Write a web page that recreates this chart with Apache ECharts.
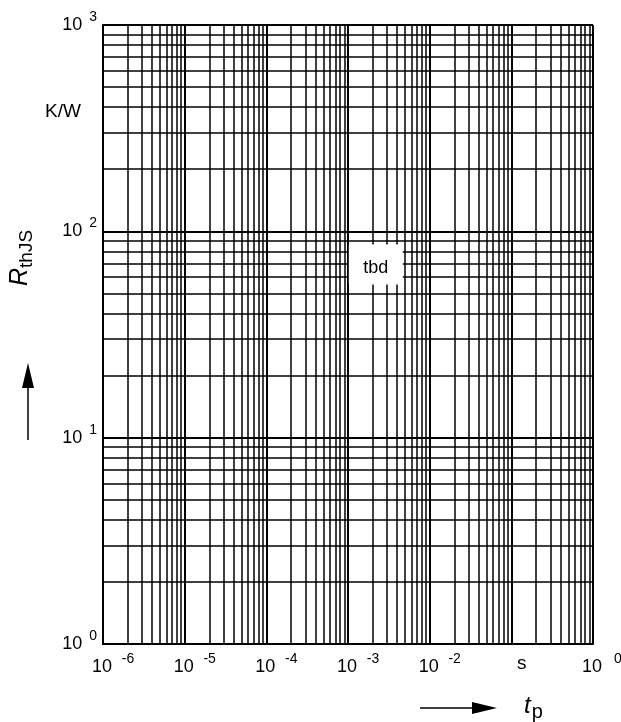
<!DOCTYPE html>
<html>
<head>
<meta charset="utf-8">
<script src="https://cdn.jsdelivr.net/npm/echarts@6/dist/echarts.min.js"></script>
<style>
  html, body { margin: 0; padding: 0; background: #fff; }
  #chart { width: 621px; height: 722px; }
</style>
</head>
<body>
<div id="chart"></div>
<script>
// axis ranges (log scale)
const xRange = [1e-6, 1];
const yRange = [1, 1000];
// decades that get minor lines, and the mantissas of those lines
const xDecades = [1e-6, 1e-5, 1e-4, 1e-3, 1e-2, 1e-1];
const yDecades = [1, 10, 100];
const mantissas = [2, 3, 4, 5, 6, 7, 8, 9];
// x tick whose label is replaced by the unit "s"
const xUnitExp = -1;
// placeholder label on the chart
const tbdPoint = [[0.00219, 69]];
const tbdText = 'tbd';

const chart = echarts.init(document.getElementById('chart'));

// minor grid lines of the log paper
const minorLines = [];
xDecades.forEach(d => mantissas.forEach(m => minorLines.push({ xAxis: d * m })));
yDecades.forEach(d => mantissas.forEach(m => minorLines.push({ yAxis: d * m })));

const font = 'Liberation Sans, Arial, sans-serif';
const expOf = v => Math.round(Math.log10(v));

const option = {
  animation: false,
  textStyle: { fontFamily: font },
  grid: { left: 103, right: 28, top: 25, bottom: 78, outerBoundsMode: 'none', containLabel: false },
  xAxis: {
    type: 'log',
    logBase: 10,
    min: xRange[0],
    max: xRange[1],
    axisLine: { show: true, lineStyle: { color: '#000', width: 2 } },
    axisTick: { show: false },
    splitLine: { show: true, lineStyle: { color: '#000', width: 2 } },
    axisLabel: {
      margin: 8,
      hideOverlap: false,
      formatter: v => expOf(v) === xUnitExp ? '' : '{p|}{b|10}{e|' + expOf(v) + '}',
      rich: {
        p: { width: 24 },
        b: { fontSize: 18, color: '#000', fontFamily: font },
        e: { fontSize: 14, width: 20, align: 'left', color: '#000', fontFamily: font, padding: [0, 0, 16, 6] }
      }
    }
  },
  yAxis: {
    type: 'log',
    logBase: 10,
    min: yRange[0],
    max: yRange[1],
    axisLine: { show: true, lineStyle: { color: '#000', width: 2 } },
    axisTick: { show: false },
    splitLine: { show: true, lineStyle: { color: '#000', width: 2 } },
    axisLabel: {
      margin: 6,
      formatter: v => '{b|10}{e|' + expOf(v) + '}',
      rich: {
        b: { fontSize: 18, color: '#000', fontFamily: font },
        e: { fontSize: 14, color: '#000', fontFamily: font, padding: [0, 0, 16, 7] }
      }
    }
  },
  series: [
    {
      type: 'line',
      data: [],
      silent: true,
      z: 1,
      markLine: {
        silent: true,
        precision: 12,
        symbol: ['none', 'none'],
        label: { show: false },
        lineStyle: { color: '#000', width: 1.5, type: 'solid' },
        emphasis: { disabled: true },
        data: minorLines
      }
    },
    {
      type: 'scatter',
      data: tbdPoint,
      z: 5,
      silent: true,
      symbol: 'rect',
      symbolSize: [54, 40],
      itemStyle: { color: '#fff', opacity: 1 },
      label: {
        show: true,
        position: 'inside',
        formatter: tbdText,
        color: '#000',
        fontSize: 18,
        fontFamily: font,
        offset: [0, 3]
      }
    }
  ],
  graphic: [
    { type: 'text', left: 45, top: 102, style: { text: 'K/W', fill: '#000', font: '19px ' + font } },
    { type: 'text', left: 517, top: 654, style: { text: 's', fill: '#000', font: '19px ' + font } },
    {
      type: 'text', x: 5, y: 286, rotation: Math.PI / 2,
      style: {
        text: '{r|R}{s|thJS}',
        fill: '#000',
        rich: {
          r: { fontSize: 25, lineHeight: 30, fontStyle: 'italic', fontFamily: font, fill: '#000' },
          s: { fontSize: 19, lineHeight: 16, fontFamily: font, fill: '#000', padding: [14, 0, 0, 0] }
        }
      }
    },
    // vertical arrow
    { type: 'line', shape: { x1: 28, y1: 440, x2: 28, y2: 385 }, style: { stroke: '#000', lineWidth: 1.5 } },
    { type: 'polygon', shape: { points: [[28, 363], [22, 388], [34, 388]] }, style: { fill: '#000' } },
    // horizontal arrow
    { type: 'line', shape: { x1: 420, y1: 708, x2: 475, y2: 708 }, style: { stroke: '#000', lineWidth: 1.5 } },
    { type: 'polygon', shape: { points: [[497, 708], [472, 702], [472, 714]] }, style: { fill: '#000' } },
    {
      type: 'text', left: 524, top: 690,
      style: {
        text: '{t|t}{p|p}',
        fill: '#000',
        rich: {
          t: { fontSize: 24, lineHeight: 28, fontStyle: 'italic', fontFamily: font, fill: '#000' },
          p: { fontSize: 20, lineHeight: 16, fontFamily: font, fill: '#000', padding: [12, 0, 0, 1] }
        }
      }
    }
  ]
};

chart.setOption(option);
</script>
</body>
</html>
